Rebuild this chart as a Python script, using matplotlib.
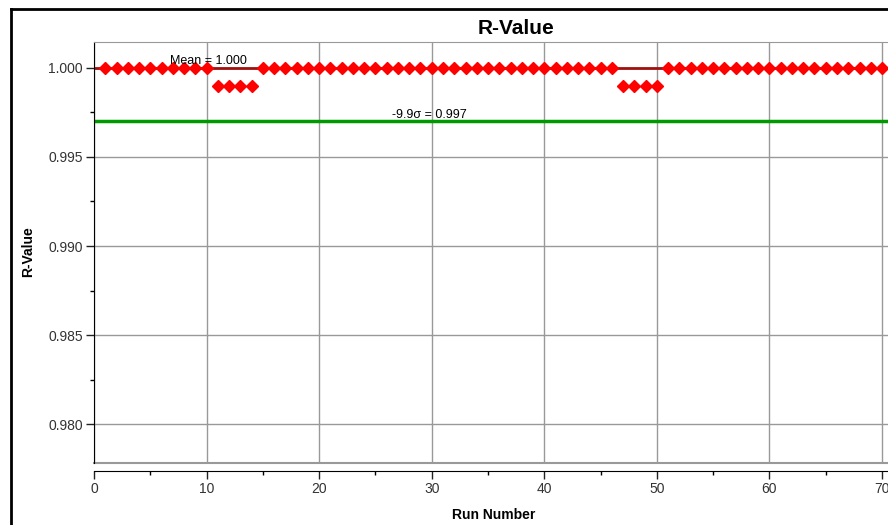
import matplotlib.pyplot as plt
from matplotlib.lines import Line2D
from matplotlib.ticker import MultipleLocator

plt.rcParams['font.family'] = ['Liberation Sans', 'DejaVu Sans']

# run numbers and R-values
runs = list(range(1, 71))
r_values = ([1.000] * 10 + [0.999] * 4 + [1.000] * 32 +
            [0.999] * 4 + [1.000] * 20)

mean_value = 1.000
limit_value = 0.997
mean_label = 'Mean = 1.000'
limit_label = '-9.9σ = 0.997'

fig = plt.figure(figsize=(8.88, 5.25), dpi=100)
ax = fig.add_axes([94 / 888, 1 - 463 / 525, 1 - 94 / 888, (463 - 42) / 525])

ax.axhline(mean_value, color='#a01010', lw=2, zorder=2)
ax.axhline(limit_value, color='#009900', lw=2.5, zorder=2)
ax.plot(runs, r_values, 'D', color='#ff0000', markersize=6, zorder=3)

ax.text(10.2, mean_value + 0.00005, mean_label, ha='center', va='bottom', fontsize=9)
ax.text(29.8, limit_value + 0.00005, limit_label, ha='center', va='bottom', fontsize=9)

ax.set_xlim(0, 70.53)
ax.set_ylim(0.97781, 1.00146)
ax.xaxis.set_major_locator(MultipleLocator(10))
ax.xaxis.set_minor_locator(MultipleLocator(5))
ax.yaxis.set_major_locator(MultipleLocator(0.005))
ax.yaxis.set_minor_locator(MultipleLocator(0.0025))
ax.yaxis.set_major_formatter(plt.FormatStrFormatter('%.3f'))
ax.grid(True, which='major', color='#999999', lw=1)
ax.tick_params(labelsize=10, labelcolor='#333333', colors='#222222',
               length=6, width=1, pad=2)
ax.tick_params(which='minor', length=3, width=1)

ax.spines['bottom'].set_position(('outward', 6))
ax.spines['top'].set_color('#999999')
ax.spines['right'].set_visible(False)
ax.axhline(0.97781, color='#999999', lw=1.5, clip_on=False)

fig.text(516 / 888, 1 - 28 / 525, 'R-Value', ha='center', va='center',
         fontsize=15, fontweight='bold')
fig.text(28 / 888, 1 - 252 / 525, 'R-Value', ha='center', va='center',
         rotation=90, fontsize=10, fontweight='bold')
fig.text(494 / 888, 1 - 515 / 525, 'Run Number', ha='center', va='center',
         fontsize=10, fontweight='bold')

# outer frame
fig.add_artist(Line2D([11 / 888, 11 / 888], [0, 1 - 9 / 525], color='black', lw=2))
fig.add_artist(Line2D([11 / 888, 1], [1 - 9 / 525, 1 - 9 / 525], color='black', lw=2))

fig.savefig('out.png', dpi=100)
